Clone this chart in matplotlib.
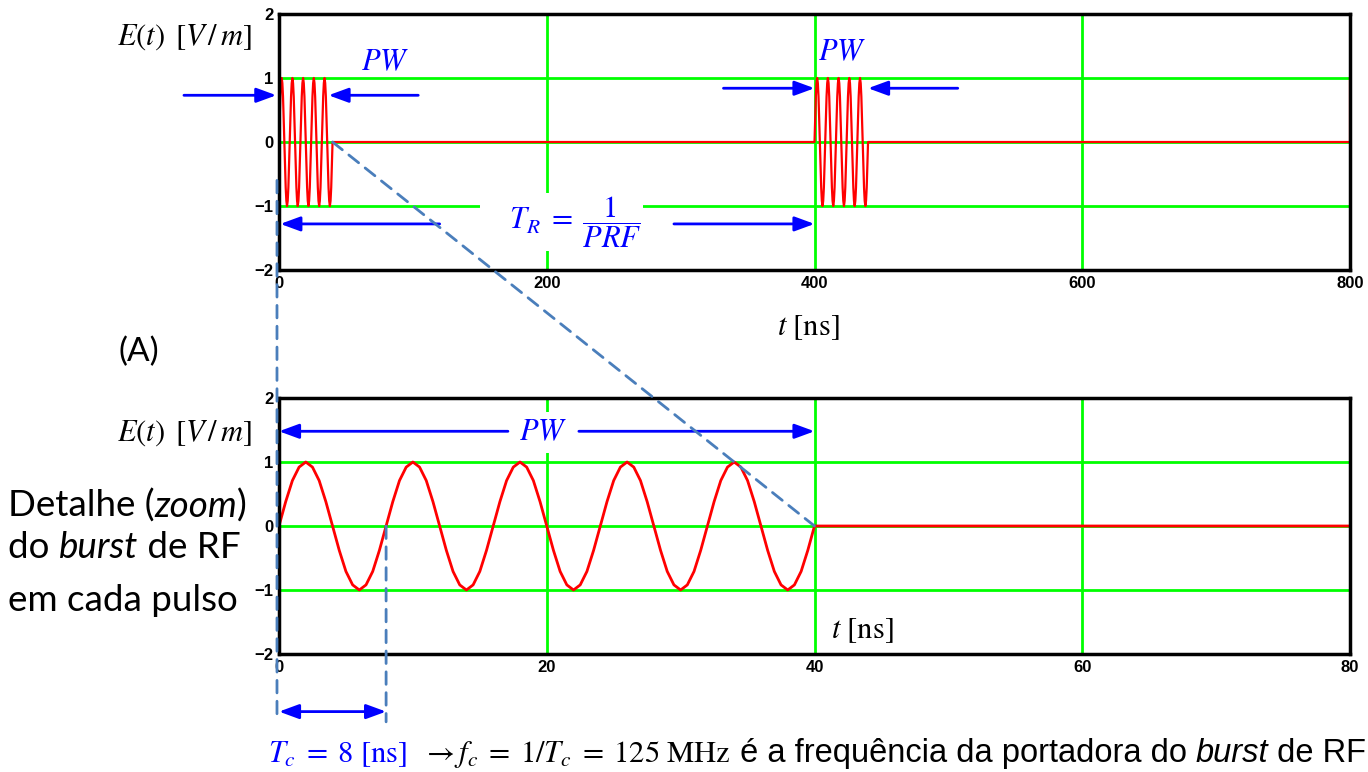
"""Pulsed RF burst: E(t) over two repetition periods and a zoom on one burst."""

import matplotlib

matplotlib.use("Agg")

import matplotlib.pyplot as plt
import numpy as np
from matplotlib.patches import ConnectionPatch

W, H = 1368, 772

# --- data -----------------------------------------------------------------
# one carrier cycle (Tc = 8 ns), sampled every 0.5 ns, as seen in the zoom panel
cycle_step_ns = 0.5
cycle_samples = [0.0, 0.38, 0.71, 0.92, 1.0, 0.92, 0.71, 0.38,
                 0.0, -0.38, -0.71, -0.92, -1.0, -0.92, -0.71, -0.38]
cycles_per_burst = 5
burst_starts_ns = [0, 400]          # T_R = 400 ns
top_end_ns = 800
tail_times = [800, 800]             # start of the next burst at the right edge
tail_values = [0.0, 1.0]
zoom_end_ns = 80

top_xticks = [0, 200, 400, 600, 800]
zoom_xticks = [0, 20, 40, 60, 80]
yticks = [-2, -1, 0, 1, 2]

RED = "#ff0000"
GREEN = "#00ff00"
BLUE = "#0000ff"
DASH = "#4a7ebb"
MATH = 22

plt.rcParams["mathtext.fontset"] = "stix"
plt.rcParams["font.family"] = ["Liberation Sans", "DejaVu Sans"]


def burst(start):
    values = list(np.tile(cycle_samples, cycles_per_burst)) + [0.0]
    times = start + cycle_step_ns * np.arange(len(values))
    return list(times), values


def px(x, y):
    return x / W, 1 - y / H


def arrow(ax, x_from, x_to, y, both=False):
    style = "<|-|>" if both else "-|>"
    ax.annotate(
        "",
        xy=(x_to, y),
        xytext=(x_from, y),
        arrowprops=dict(
            arrowstyle=style + ",head_length=0.6,head_width=0.22",
            color=BLUE,
            lw=2,
            mutation_scale=20,
            shrinkA=0,
            shrinkB=0,
        ),
        annotation_clip=False,
        zorder=6,
    )


def style_axes(ax, xlim, xticks):
    ax.set_xlim(*xlim)
    ax.set_ylim(-2, 2)
    ax.set_xticks(xticks)
    ax.set_yticks(yticks)
    ax.set_axisbelow(True)
    ax.grid(True, color=GREEN, lw=2)
    ax.tick_params(length=0, labelsize=12, pad=4)
    for label in ax.get_xticklabels() + ax.get_yticklabels():
        label.set_fontweight("bold")
    for spine in ax.spines.values():
        spine.set_linewidth(2.5)
        spine.set_color("black")
        spine.set_zorder(5)


# --- signals ---------------------------------------------------------------
top_t, top_e = [], []
for start in burst_starts_ns:
    t, e = burst(start)
    top_t += t
    top_e += e
top_t += [top_end_ns] + tail_times
top_e += [0.0] + tail_values

zoom_t, zoom_e = burst(0)
zoom_t += [zoom_end_ns]
zoom_e += [0.0]

fig = plt.figure(figsize=(W / 100, H / 100), dpi=100)
ax_top = fig.add_axes([279 / W, 1 - 270 / H, 1071 / W, 256 / H])
ax_bot = fig.add_axes([279 / W, 1 - 654 / H, 1071 / W, 256 / H])

ax_top.plot(top_t, top_e, color=RED, lw=1.6, zorder=3)
ax_bot.plot(zoom_t, zoom_e, color=RED, lw=2, zorder=3)
style_axes(ax_top, (0, top_end_ns), top_xticks)
style_axes(ax_bot, (0, zoom_end_ns), zoom_xticks)

# --- top panel annotations -------------------------------------------------
arrow(ax_top, -71, -2, 0.73)
arrow(ax_top, 104, 37, 0.73)
arrow(ax_top, 332, 400, 0.84)
arrow(ax_top, 507, 440, 0.84)
arrow(ax_top, 120, 1, -1.28)
arrow(ax_top, 295, 400, -1.28)
ax_top.text(79, 1.25, r"$PW$", color=BLUE, fontsize=MATH, ha="center", va="center", zorder=6)
ax_top.text(421, 1.41, r"$PW$", color=BLUE, fontsize=MATH, ha="center", va="center", zorder=6)
ax_top.text(
    211, -1.25, r"$\quad\;T_R\;=\;\dfrac{1}{PRF}\quad\;$",
    color=BLUE, fontsize=MATH, ha="center", va="center", zorder=4,
    bbox=dict(fc="white", ec="none", pad=1),
)

# --- zoom panel annotations ------------------------------------------------
arrow(ax_bot, 17.1, 0, 1.48)
arrow(ax_bot, 22.4, 40, 1.48)
ax_bot.text(
    19.7, 1.46, r"$PW$", color=BLUE, fontsize=MATH, ha="center", va="center",
    zorder=4, bbox=dict(fc="white", ec="none", pad=4),
)
arrow(ax_bot, 0, 8, -2.9, both=True)

dash_style = dict(color=DASH, lw=2, linestyle=(0, (4.5, 3)), zorder=7)
for artist in [
    ConnectionPatch((40, 0), (40, 0), "data", "data", axesA=ax_top, axesB=ax_bot, **dash_style),
    ConnectionPatch((-1.5, -0.6), (-0.15, -3.06), "data", "data", axesA=ax_top, axesB=ax_bot, **dash_style),
    ConnectionPatch((8, 0), (8, -3.06), "data", "data", axesA=ax_bot, axesB=ax_bot, **dash_style),
]:
    artist.set_annotation_clip(False)
    fig.add_artist(artist)

# --- free text ---------------------------------------------------------------
for y in (37, 433):
    fig.text(*px(252, y), r"$E(t)\ \,[V\,/\,m]$", fontsize=MATH, ha="right", va="center")
fig.text(*px(808, 327), r"$t\ [\mathrm{ns}]$", fontsize=MATH, ha="center", va="center")
fig.text(*px(862, 630), r"$t\ [\mathrm{ns}]$", fontsize=MATH, ha="center", va="center")
fig.text(*px(139, 352), "(A)", fontsize=24, family=["Lato", "DejaVu Sans"], ha="center", va="center")

side_lines = [
    [("Detalhe (", "normal"), ("zoom", "italic"), (")", "normal")],
    [("do ", "normal"), ("burst", "italic"), (" de RF", "normal")],
    [("em cada pulso", "normal")],
]
renderer = fig.canvas.get_renderer()


def chain(x_px, y_px, pieces):
    x = x_px
    for text, kwargs in pieces:
        item = fig.text(*px(x, y_px), text, ha="left", va="baseline", **kwargs)
        x += item.get_window_extent(renderer).width


for line, base in zip(side_lines, (517, 558, 611)):
    chain(8, base, [(text, dict(fontsize=26.5, style=style, family=["Lato", "DejaVu Sans"]))
                    for text, style in line])

chain(268, 762, [
    (r"$T_c\;=\;8\ [\mathrm{ns}]$", dict(fontsize=MATH, color=BLUE)),
    (r"$\ \ \rightarrow f_c\;=\;1/T_c\;=\;125\ \mathrm{MHz}$", dict(fontsize=MATH)),
    (" é a frequência da portadora do ", dict(fontsize=23.5)),
    ("burst", dict(fontsize=23.5, style="italic")),
    (" de RF", dict(fontsize=23.5)),
])

fig.savefig("out.png", dpi=100)
